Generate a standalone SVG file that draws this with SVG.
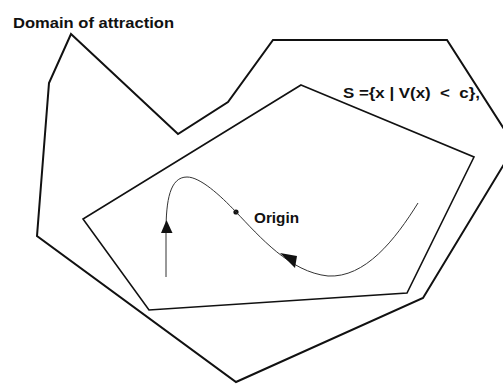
<svg xmlns="http://www.w3.org/2000/svg" width="503" height="386" viewBox="0 0 503 386">
<style>
.t{font-family:"Liberation Sans",Arial,sans-serif;font-weight:bold;fill:#111}
.poly{fill:none;stroke:#111;stroke-linejoin:miter}
.curve{fill:none;stroke:#333;stroke-width:1}
.arr{fill:#111}
</style>
<rect width="503" height="386" fill="#fff"/>
<g id="domain">
<polygon class="poly" stroke-width="2" points="71,34 178,134 228,102 273,40 447,40 515,146 423,298 236,382 37,236 49,83"/>
<text class="t" x="13" y="27.5" font-size="15" textLength="161" lengthAdjust="spacingAndGlyphs">Domain of attraction</text>
</g>
<g id="set-s">
<polygon class="poly" stroke-width="1.6" points="301,85 474,157 407,293 149,310 83,219"/>
<text class="t" x="343" y="97.5" font-size="14" textLength="137" lengthAdjust="spacingAndGlyphs" xml:space="preserve">S ={x | V(x)  &lt;  c},</text>
</g>
<g id="origin">
<circle cx="236" cy="212" r="2.6" fill="#111"/>
<text class="t" x="254" y="222.5" font-size="14" textLength="45" lengthAdjust="spacingAndGlyphs">Origin</text>
</g>
<g id="connectors">
<path class="curve" d="M166,277 L166,232 C166,200 170,177 187,177 C200,177 220,195 236,212 C260,237 290,272 328,276 C365,278 395,240 418,203"/>
<polygon class="arr" points="166.5,220 161,233 172.5,233"/>
<polygon class="arr" points="280,253 297,256 295,268"/>
</g>
</svg>
